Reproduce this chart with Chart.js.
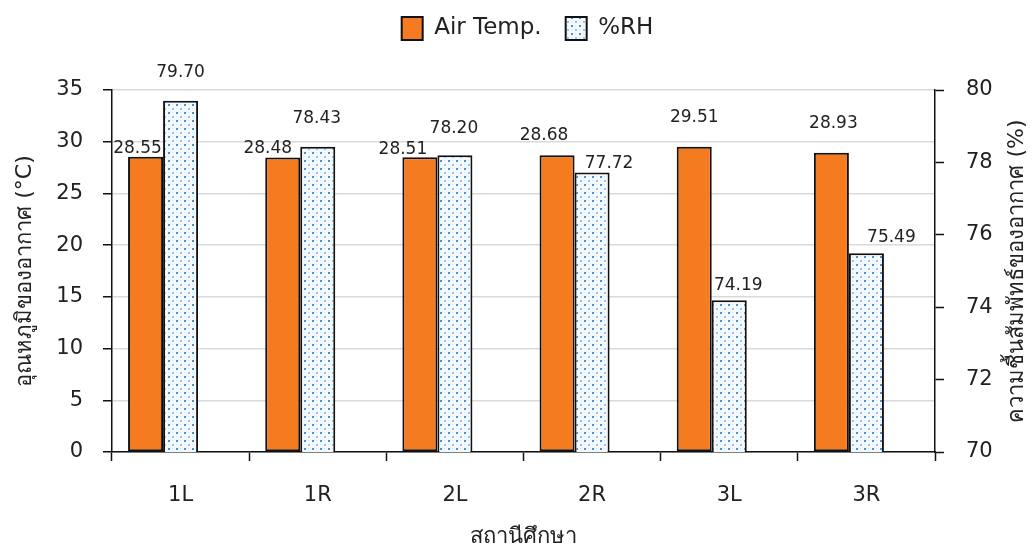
<!DOCTYPE html>
<html>
<head>
<meta charset="utf-8">
<script src="https://cdn.jsdelivr.net/npm/chart.js@4"></script>
<style>
  html, body { margin: 0; padding: 0; background: #fff; }
  #wrap { width: 1033px; height: 556px; }
</style>
</head>
<body>
<div id="wrap"><canvas id="rhChart" width="1033" height="556"></canvas></div>
<script>
/* Data */
const stations = ['1L', '1R', '2L', '2R', '3L', '3R'];
const airTemp = [28.55, 28.48, 28.51, 28.68, 29.51, 28.93];
const humidity = [79.70, 78.43, 78.20, 77.72, 74.19, 75.49];
const tempTicks = [0, 5, 10, 15, 20, 25, 30, 35];
const rhTicks = [70, 72, 74, 76, 78, 80];

const FONT = "'DejaVu Sans', 'Noto Sans', sans-serif";

/* dotted light-blue fill like the excel pattern */
function dotPattern() {
  const c = document.createElement('canvas');
  c.width = 8; c.height = 8;
  const g = c.getContext('2d');
  g.fillStyle = '#f4f9fd';
  g.fillRect(0, 0, 8, 8);
  g.fillStyle = '#4a8fcf';
  g.fillRect(0, 0, 2, 2);
  g.fillStyle = '#9cc3e6';
  g.fillRect(4, 4, 2, 2);
  g.fillStyle = '#d2e4f4';
  g.fillRect(4, 0, 1, 1);
  g.fillRect(0, 4, 1, 1);
  return g.createPattern(c, 'repeat');
}
const rhFill = dotPattern();

// label nudges (px), excel moved some labels around
const labelNudge = {
  0: { dx: [-8, -15, -17, -13, 0, 2], gap: [8, 9, 8, 20, 29, 29] },
  1: { dx: [0, -1, -1, 17, 9, 25], gap: [28, 28, 27, 9, 15, 16] }
};

const valueLabels = {
  id: 'valueLabels',
  afterDatasetsDraw(chart) {
    const ctx = chart.ctx;
    ctx.save();
    ctx.font = '17px ' + FONT;
    ctx.fillStyle = '#222';
    ctx.textAlign = 'center';
    ctx.textBaseline = 'middle';
    [0, 1].forEach(i => {
      const ds = chart.data.datasets[i];
      const meta = chart.getDatasetMeta(i);
      meta.data.forEach((bar, j) => {
        const n = labelNudge[i];
        ctx.fillText(ds.data[j].toFixed(2), bar.x + n.dx[j], bar.y - n.gap[j]);
      });
    });
    ctx.restore();
  }
};

// right title reads bottom-to-top like the left one
const rightTitle = {
  id: 'rightTitle',
  afterDraw(chart) {
    const ctx = chart.ctx;
    const area = chart.chartArea;
    ctx.save();
    ctx.translate(1017, (area.top + area.bottom) / 2);
    ctx.rotate(-Math.PI / 2);
    ctx.font = '22px ' + FONT;
    ctx.fillStyle = '#222';
    ctx.textAlign = 'center';
    ctx.textBaseline = 'middle';
    ctx.fillText('ความชื้นสัมพัทธ์ของอากาศ (%)', 0, 0);
    ctx.restore();
  }
};

// extra room under the legend, and nudge the legend up/right a little
const legendGap = {
  id: 'legendGap',
  beforeInit(chart) {
    const lg = chart.legend;
    const fit = lg.fit;
    const draw = lg.draw;
    lg.fit = function () {
      fit.call(this);
      this.height += 33;
    };
    lg.draw = function () {
      this.ctx.save();
      this.ctx.translate(11, -7);
      draw.call(this);
      this.ctx.restore();
    };
  }
};

/* Create chart */
const rhChart = new Chart('rhChart', {
  type: 'bar',
  data: {
    labels: stations,
    datasets: [
      {
        label: 'Air Temp.',
        data: airTemp,
        yAxisID: 'y',
        backgroundColor: '#f47b20',
        borderColor: '#111',
        borderWidth: 2,
        borderSkipped: false
      },
      {
        label: '%RH',
        data: humidity,
        yAxisID: 'y1',
        backgroundColor: rhFill,
        borderColor: '#111',
        borderWidth: 2,
        borderSkipped: false
      },
      {
        // empty third series, excel keeps its slot so the pair sits left
        label: '',
        data: [],
        yAxisID: 'y'
      }
    ]
  },
  plugins: [legendGap, valueLabels, rightTitle],
  options: {
    responsive: false,
    animation: false,
    layout: { padding: { top: 0, left: 0, right: 0, bottom: 0 } },
    datasets: {
      bar: { categoryPercentage: 0.766, barPercentage: 1.0 }
    },
    scales: {
      x: {
        grid: {
          display: true,
          drawOnChartArea: false,
          drawTicks: true,
          tickLength: 9,
          tickColor: '#111',
          tickWidth: 1.5
        },
        border: { color: '#111', width: 1.5 },
        ticks: { color: '#222', font: { family: FONT, size: 21 }, padding: 22 },
        title: {
          display: true,
          text: 'สถานีศึกษา',
          color: '#222',
          font: { family: FONT, size: 22 },
          padding: { top: 10, bottom: 6 }
        },
        afterFit(s) { s.height = 104; }
      },
      y: {
        position: 'left',
        min: 0,
        max: 35,
        afterBuildTicks(s) { s.ticks = tempTicks.map(v => ({ value: v })); },
        grid: {
          color: '#d9d9d9',
          lineWidth: 1.5,
          tickColor: '#111',
          tickLength: 9,
          tickWidth: 1.5
        },
        border: { color: '#111', width: 1.5 },
        ticks: { color: '#222', font: { family: FONT, size: 21 }, padding: 20 },
        title: {
          display: true,
          text: 'อุณหภูมิของอากาศ (°C)',
          color: '#222',
          font: { family: FONT, size: 22 },
          padding: { top: 12, bottom: 0 }
        },
        afterFit(s) { s.width = 112; }
      },
      y1: {
        position: 'right',
        min: 70,
        max: 80,
        afterBuildTicks(s) { s.ticks = rhTicks.map(v => ({ value: v })); },
        grid: {
          drawOnChartArea: false,
          tickColor: '#111',
          tickLength: 9,
          tickWidth: 1.5
        },
        border: { color: '#111', width: 1.5 },
        ticks: { color: '#222', font: { family: FONT, size: 21 }, padding: 22 },
        afterFit(s) { s.width = 98; }
      }
    },
    plugins: {
      legend: {
        position: 'top',
        labels: {
          color: '#222',
          font: { family: FONT, size: 23 },
          boxWidth: 21,
          boxHeight: 23,
          padding: 24,
          filter: item => item.text !== ''
        }
      },
      tooltip: { enabled: false }
    }
  }
});
</script>
</body>
</html>
